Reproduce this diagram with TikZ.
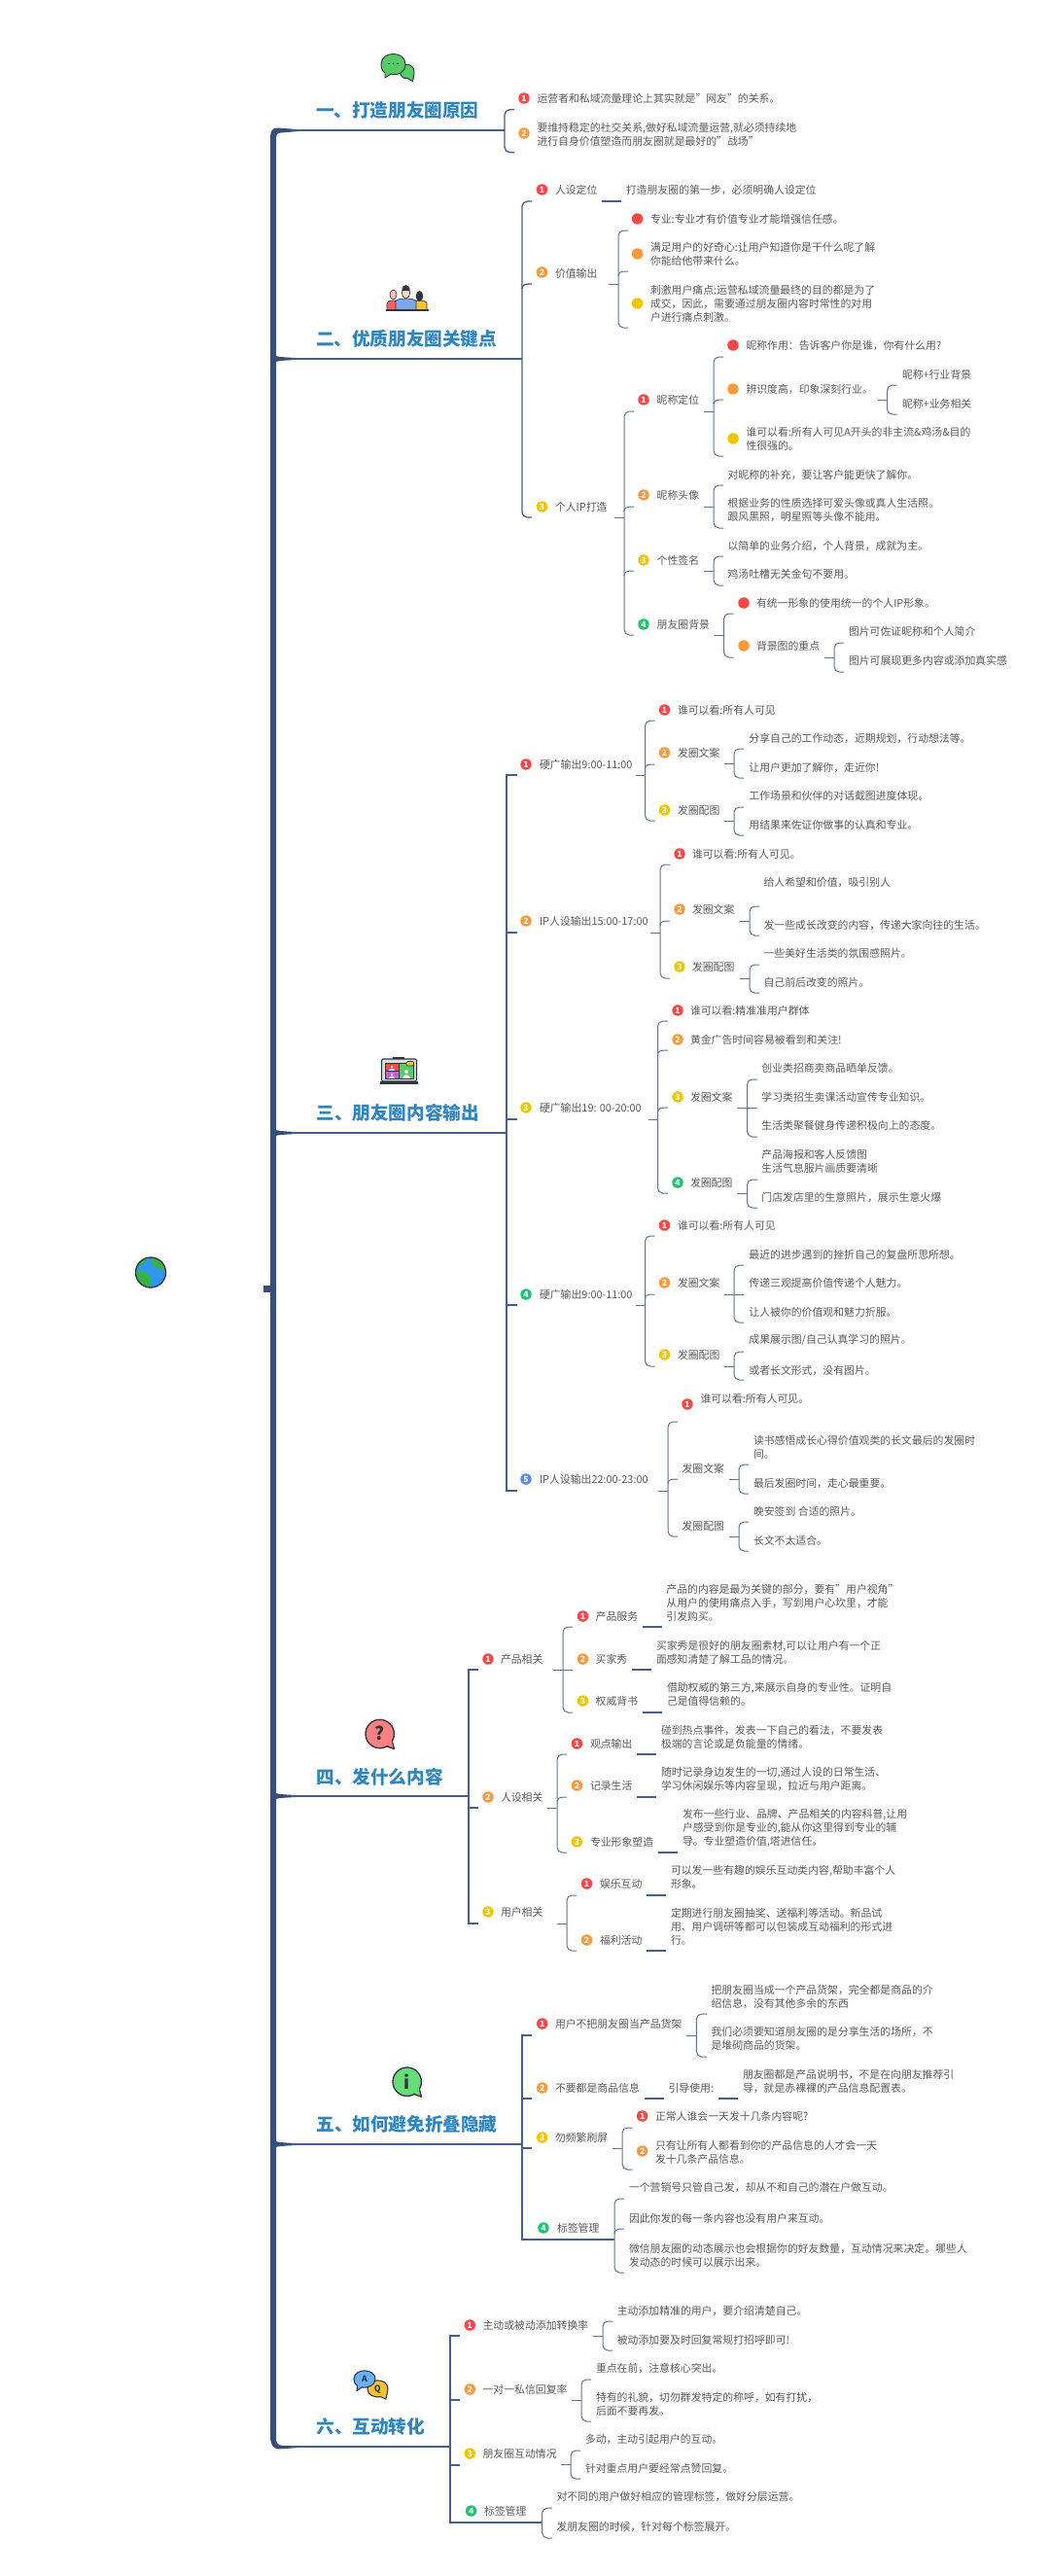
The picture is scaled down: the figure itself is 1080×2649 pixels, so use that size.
\documentclass[tikz,border=0pt]{standalone}
\usepackage{fontspec}
\setmainfont{Noto Sans CJK SC}
\usetikzlibrary{calc}
\definecolor{spine}{HTML}{374E79}
\definecolor{mainl}{HTML}{46608C}
\definecolor{thinl}{HTML}{5F7399}
\definecolor{txtc}{HTML}{5A5A5A}
\definecolor{titlec}{HTML}{2E86C1}
\definecolor{cr}{HTML}{FF4545}
\definecolor{co}{HTML}{FF9A3C}
\definecolor{cy}{HTML}{F2C500}
\definecolor{cg}{HTML}{1FC46F}
\definecolor{cb}{HTML}{5B87F7}
\definecolor{ico}{HTML}{2F3640}
\definecolor{gbub}{HTML}{55CC66}
\definecolor{gbul}{HTML}{66DD77}
\definecolor{rbub}{HTML}{FF8080}
\definecolor{ybub}{HTML}{F5C42C}
\definecolor{bbub}{HTML}{66B2FF}
\definecolor{earth}{HTML}{2F95EE}
\definecolor{land}{HTML}{35B34A}
\definecolor{purp}{HTML}{C060E0}
\definecolor{torso}{HTML}{7FA8E8}
\definecolor{skin}{HTML}{FBDDB8}
\tikzset{
  txt/.style={anchor=west,inner sep=0pt,outer sep=0pt,text=txtc,align=left,font=\fontsize{8.15}{10.5}\selectfont},
  ttl/.style={anchor=west,inner sep=0pt,outer sep=0pt,text=titlec,font=\fontsize{13.95}{16}\selectfont\bfseries},
  bdg/.style={circle,inner sep=0pt,outer sep=0pt,minimum size=8.6pt,text=white,font=\fontsize{6.4}{6.4}\selectfont\bfseries},
  thinline/.style={draw=thinl,line width=0.75pt,rounded corners=4pt},
  mainr/.style={draw=mainl,line width=1pt,rounded corners=4pt},
  mains/.style={draw=mainl,line width=1.1pt}
}
\newcounter{cn}
% text node
\newcommand\T[3]{\stepcounter{cn}\node[txt] (t\arabic{cn}) at (#1,#2) {#3};}
\newcommand\Ttl[3]{\stepcounter{cn}\node[ttl] (t\arabic{cn}) at (#1,#2) {#3};}
% numbered badge
\newcommand\Bdg[4]{\stepcounter{cn}\node[bdg,fill=#3] (n\arabic{cn}) at (#1,#2) {#4};}
% plain dot
\newcommand\Dt[3]{\stepcounter{cn}\node[bdg,fill=#3] (n\arabic{cn}) at (#1,#2) {};}
% bracket: style, id, stem x, bar x, tip x, stem y, top y, bottom y
\newcommand\Fork[8][thinline]{%
  \coordinate (#2s) at (#3,#6);\coordinate (#2j) at (#4,#6);
  \coordinate (#2t) at (#5,#7);\coordinate (#2b) at (#5,#8);
  \coordinate (#2tc) at (#4,#7);\coordinate (#2bc) at (#4,#8);
  \draw[#1,rounded corners=0pt] (#2s) -- (#2j);
  \draw[#1] (#2t) -- (#2tc) -- (#2bc) -- (#2b);}
% curved middle tip leaving the bar
\newcommand\Mid[5][thinline]{\stepcounter{cn}%
  \coordinate (m\arabic{cn}) at (#4,#5);
  \draw[#1,rounded corners=0pt] (#3,#5+5) .. controls (#3,#5+1) and (#3+2,#5) .. (m\arabic{cn});}
% straight middle tip
\newcommand\Msq[5][thinline]{\stepcounter{cn}%
  \coordinate (m\arabic{cn}) at (#4,#5);\coordinate (ma\arabic{cn}) at (#3,#5);
  \draw[#1,rounded corners=0pt] (ma\arabic{cn}) -- (m\arabic{cn});}
% underline between a topic and its text
\newcommand\Und[3]{\stepcounter{cn}%
  \coordinate (ua\arabic{cn}) at (#1,#3);\coordinate (ub\arabic{cn}) at (#2,#3);
  \draw[mainl,line width=0.85pt] (ua\arabic{cn}) -- (ub\arabic{cn});}
% taper where a branch leaves the spine
\newcommand\Taper[1]{\fill[spine] (283,#1-3.2) .. controls (285,#1-2) and (295,#1-1.4) .. (310,#1-0.7) -- (310,#1+0.7) .. controls (295,#1+1.4) and (285,#1+2) .. (283,#1+3.2) -- cycle;}
\begin{document}
\begin{tikzpicture}[x=0.75pt,y=-0.75pt]
\useasboundingbox (0,0) rectangle (1080,2649);
\fill[white] (0,0) rectangle (1080,2649);
% ---------- spine ----------
\fill[spine] (278,2505) -- (278,142) .. controls (278,135) and (280,131) .. (286,131.5)
  -- (310,133.4) -- (310,134.8) -- (289,136.5) .. controls (285.5,136.8) and (284,138) .. (284,141)
  -- (284,2508) .. controls (284,2512) and (286,2514.5) .. (290,2514.8) -- (310,2515.4) -- (310,2516.8)
  -- (288,2518.3) .. controls (281,2518.6) and (278,2514) .. (278,2505) -- cycle;
\fill[spine] (271,1322) rectangle (279,1328.5);
\Taper{369}\Taper{1165}\Taper{1847}\Taper{2205}
% ---------- globe ----------
\begin{scope}
\clip (155,1308.5) circle (15.5);
\fill[earth] (155,1308.5) circle (15.5);
\fill[land] (139,1292) -- (153,1292) .. controls (150,1298) and (146,1301) .. (140,1304) -- cycle;
\fill[land] (156,1292) -- (172,1296) -- (172,1308) .. controls (166,1305) and (158,1305) .. (156,1298) -- cycle;
\fill[land] (139,1307) .. controls (146,1305) and (155,1310) .. (156,1316) .. controls (156,1320) and (153,1324) .. (150,1326) -- (139,1324) -- cycle;
\end{scope}
\draw[ico,line width=1pt] (155,1308.5) circle (15.5);
% ---------- icon 1: chat ----------
\fill[gbub,draw=ico,line width=0.7pt] (411,72) .. controls (411,64) and (426,64) .. (426,74) .. controls (426,78) and (425,80) .. (424.5,83.5) -- (419,80.5) .. controls (414,81.5) and (411,77) .. (411,72) -- cycle;
\fill[gbub,draw=ico,line width=0.7pt] (392,66) .. controls (392,52) and (417,52) .. (417,66) .. controls (417,74) and (410,78) .. (402,76) -- (396,80) -- (396,75) .. controls (393,73) and (392,70) .. (392,66) -- cycle;
\foreach \dx in {400,404.5,409}{\fill[ico] (\dx,65.5) circle (0.9);}
% ---------- icon 2: people ----------
\fill[cr!85!white,draw=ico,line width=0.5pt] (398,318.5) -- (398,312) .. controls (398,308) and (410,308) .. (410,312) -- (410,318.5) -- cycle;
\fill[cr!35!white,draw=ico,line width=0.5pt] (404.5,303) circle (3.5 and 5);
\fill[ybub,draw=ico,line width=0.5pt] (425,318.5) -- (425,312) .. controls (425,308) and (439,308) .. (439,312) -- (439,318.5) -- cycle;
\fill[ico] (431.5,304.5) circle (3.8 and 5.5);
\fill[torso,draw=ico,line width=0.5pt] (407,318.5) -- (407,310) .. controls (407,306) and (428,306) .. (428,310) -- (428,318.5) -- cycle;
\fill[skin,draw=ico,line width=0.5pt] (417.5,301) circle (4 and 6);
\fill[ico] (413.5,299) .. controls (413,291) and (422,291) .. (421.5,299) -- cycle;
\draw[ico,line width=1pt] (397,319) -- (441,319);
% ---------- icon 3: laptop ----------
\fill[gray!25,draw=ico,line width=0.8pt,rounded corners=1pt] (392.5,1089) rectangle (428.5,1112);
\fill[ico] (391,1112) rectangle (430,1115);
\fill[ico] (404,1086.5) rectangle (416,1089);
\fill[cr] (396,1093) rectangle (410,1100.5);
\fill[purp] (396,1101.5) rectangle (410,1109);
\fill[gbub] (411,1093) rectangle (425,1109);
\draw[ico,line width=0.5pt] (396,1093) rectangle (425,1109) (410.5,1093) -- (410.5,1109) (396,1101) -- (410.5,1101);
\fill[white] (403,1097) circle (1.3) (403,1105) circle (1.3) (418,1102) circle (2);
\fill[white] (400,1100.5) .. controls (400,1098) and (406,1098) .. (406,1100.5) -- cycle;
\fill[white] (400,1109) .. controls (400,1106) and (406,1106) .. (406,1109) -- cycle;
\fill[white] (414,1109) .. controls (414,1104) and (422,1104) .. (422,1109) -- cycle;
\fill[ybub,draw=ico,line width=0.4pt,rounded corners=1pt] (418,1091.5) rectangle (425.5,1096);
% ---------- icon 4: question ----------
\fill[rbub,draw=ico,line width=1pt,line join=round] (403,1789.5) -- (405.5,1798.5) -- (397,1795.5) -- cycle;
\fill[rbub,draw=ico,line width=1pt] (390.7,1783) circle (14.7);
\fill[rbub] (403,1789.8) -- (397.3,1794.8) -- (403.5,1795.5) -- cycle;
\node[inner sep=0pt,text=ico,font=\fontsize{14}{14}\selectfont\bfseries] (qmark) at (390.7,1782.5) {?};
% ---------- icon 5: info ----------
\fill[gbul,draw=ico,line width=1pt,line join=round] (431,2147.2) -- (433.5,2156.2) -- (425,2153.2) -- cycle;
\fill[gbul,draw=ico,line width=1pt] (418.7,2140.7) circle (14.7);
\fill[gbul] (431,2147.5) -- (425.3,2152.5) -- (431.5,2153.2) -- cycle;
\node[inner sep=0pt,text=ico,font=\fontsize{14}{14}\selectfont\bfseries] (imark) at (418.7,2140.5) {i};
% ---------- icon 6: A/Q ----------
\fill[ybub,draw=ico,line width=0.8pt,line join=round] (378,2456.5) .. controls (378,2445) and (399,2445) .. (399,2456.5) .. controls (399,2460) and (397.5,2463) .. (397,2467) -- (391,2464.5) .. controls (384,2466) and (378,2462) .. (378,2456.5) -- cycle;
\fill[bbub,draw=ico,line width=0.8pt,line join=round] (364,2446.5) .. controls (364,2435) and (386,2435) .. (386,2446.5) .. controls (386,2453) and (378,2456) .. (372,2455) -- (367,2458.5) -- (367.5,2453) .. controls (365,2452) and (364,2449) .. (364,2446.5) -- cycle;
\node[inner sep=0pt,text=ico,font=\fontsize{6.5}{6.5}\selectfont\bfseries] (amark) at (375,2446.5) {A};
\node[inner sep=0pt,text=ico,font=\fontsize{6.5}{6.5}\selectfont\bfseries] (qqmark) at (388.3,2457) {Q};
% ---------- titles ----------
\Ttl{325}{113}{一、打造朋友圈原因}
\Ttl{325}{348}{二、优质朋友圈关键点}
\Ttl{325.5}{1144}{三、朋友圈内容输出}
\Ttl{325.5}{1827}{四、发什么内容}
\Ttl{325.5}{2184}{五、如何避免折叠隐藏}
\Ttl{325.5}{2495}{六、互动转化}
% ========== section 1 ==========
\Fork[mainr]{a}{300}{519}{529}{134}{112.7}{156.7}
\Bdg{539}{101}{cr}{1}\T{552.5}{101}{运营者和私域流量理论上其实就是"网友"的关系。}
\Bdg{539}{137}{co}{2}\T{552.5}{138}{要维持稳定的社交关系,做好私域流量运营,就必须持续地\\进行自身价值塑造而朋友圈就是最好的"战场"}
% ========== section 2 ==========
\Fork[mainr]{b}{300}{537}{547}{369}{207}{532}
\Mid[mainr]{b}{537}{547}{292}
\Bdg{557.5}{195}{cr}{1}\T{571}{195}{人设定位}\Und{619}{639}{207}\T{644}{195}{打造朋友圈的第一步，必须明确人设定位}
\Bdg{557.5}{280}{co}{2}\T{571}{281}{价值输出}
\Fork{c}{626}{636}{646}{292}{237}{337}\Mid{c}{636}{646}{279}
\Dt{655.6}{225}{cr}\T{669}{225}{专业:专业才有价值专业才能增强信任感。}
\Dt{655.6}{261}{co}\T{669}{261}{满足用户的好奇心:让用户知道你是干什么呢了解\\你能给他带来什么。}
\Dt{655.6}{312}{cy}\T{669}{312}{刺激用户痛点:运营私域流量最终的目的都是为了\\成交，因此，需要通过朋友圈内容时常性的对用\\户进行痛点刺激。}
\Bdg{557.5}{521}{cy}{3}\T{571}{521}{个人IP打造}
\Fork{d}{632}{642}{652}{532}{423}{653}\Mid{d}{642}{652}{521}\Mid[thinline]{d}{642}{652}{587}
\Bdg{662}{411}{cr}{1}\T{675.7}{411}{昵称定位}
\Fork{e}{724}{734}{744}{423}{367}{469}\Mid{e}{734}{744}{411}
\Dt{754}{355}{cr}\T{767.5}{355}{昵称作用：告诉客户你是谁，你有什么用?}
\Dt{754}{400}{co}\T{767.5}{400}{辨识度高，印象深刻行业。}
\Fork{f}{902.5}{912.5}{922.5}{411}{396}{426}
\T{928}{385}{昵称+行业背景}\T{928}{415}{昵称+业务相关}
\Dt{754}{451}{cy}\T{767.5}{451}{谁可以看:所有人可见A开头的非主流\&鸡汤\&目的\\性很强的。}
\Bdg{662}{509}{co}{2}\T{675.7}{509}{昵称头像}
\Fork{g}{724}{734}{744}{521}{499}{543}
\T{748.6}{488}{对昵称的补充，要让客户能更快了解你。}
\T{748.6}{524}{根据业务的性质选择可爱头像或真人生活照。\\跟风黑照，明星照等头像不能用。}
\Bdg{662}{576}{cy}{3}\T{675.7}{576}{个性签名}
\Fork{h}{724}{734}{744}{587}{572}{602}
\T{748.6}{561}{以简单的业务介绍，个人背景，成就为主。}
\T{748.6}{590}{鸡汤吐槽无关金句不要用。}
\Bdg{662}{642}{cg}{4}\T{675.7}{642}{朋友圈背景}
\Fork{i}{734.5}{744.5}{754.5}{653}{631}{676}
\Dt{765}{620}{cr}\T{778}{620}{有统一形象的使用统一的个人IP形象。}
\Dt{765}{664}{co}\T{778}{664}{背景图的重点}
\Fork{j}{848}{858}{868}{676}{661}{691}
\T{873}{649}{图片可佐证昵称和个人简介}\T{873}{679}{图片可展现更多内容或添加真实感}
% ========== section 3 ==========
\draw[mains,rounded corners=0pt] (300,1165) -- (521,1165);
\coordinate (kt) at (531.5,797);\coordinate (kb) at (531.5,1533);
\draw[mains] (kt) -- (521,797) -- (521,1533) -- (kb);
\Msq[mains]{k}{521}{531.5}{959}\Msq[mains]{k}{521}{531.5}{1151}\Msq[mains]{k}{521}{531.5}{1342}
% 3.1
\Bdg{541}{786}{cr}{1}\T{555}{786}{硬广输出9:00-11:00}
\Fork{l}{653.5}{663.5}{673.5}{797}{741}{844}\Mid{l}{663.5}{673.5}{786}
\Bdg{683.5}{730}{cr}{1}\T{697}{730}{谁可以看:所有人可见}
\Bdg{683.5}{774}{co}{2}\T{697}{774}{发圈文案}
\Fork{la}{745}{755}{765}{785}{770}{800}
\T{770.4}{759}{分享自己的工作动态，近期规划，行动想法等。}\T{770.4}{789}{让用户更加了解你，走近你!}
\Bdg{683.5}{833}{cy}{3}\T{697}{833}{发圈配图}
\Fork{lb}{745}{755}{765}{844}{830}{859}
\T{770.4}{818}{工作场景和伙伴的对话截图进度体现。}\T{770.4}{848}{用结果来佐证你做事的认真和专业。}
% 3.2
\Bdg{541}{947}{co}{2}\T{555}{947}{IP人设输出15:00-17:00}
\Fork{m}{669}{679}{689}{959}{889}{1006}\Mid{m}{679}{689}{947}
\Bdg{699}{878}{cr}{1}\T{712}{878}{谁可以看:所有人可见。}
\Bdg{699}{935}{co}{2}\T{712}{935}{发圈文案}
\Fork{ma}{761}{771}{781}{947}{932}{962}
\T{785.6}{907}{给人希望和价值，吸引别人}\T{785.6}{951}{发一些成长改变的内容，传递大家向往的生活。}
\Bdg{699}{994}{cy}{3}\T{712}{994}{发圈配图}
\Fork{mb}{761}{771}{781}{1006}{992}{1021}
\T{785.6}{980}{一些美好生活类的氛围感照片。}\T{785.6}{1010}{自己前后改变的照片。}
% 3.3
\Bdg{541}{1139}{cy}{3}\T{555}{1139}{硬广输出19: 00-20:00}
\Fork{n}{666.5}{676.5}{687}{1151}{1050}{1227}\Mid{n}{676.5}{687}{1080}\Mid{n}{676.5}{687}{1139}
\Bdg{697}{1039}{cr}{1}\T{710}{1039}{谁可以看:精准准用户群体}
\Bdg{697}{1069}{co}{2}\T{710}{1069}{黄金广告时间容易被看到和关注!}
\Bdg{697}{1128}{cy}{3}\T{710}{1128}{发圈文案}
\Fork{na}{758}{768.5}{779}{1139}{1110}{1169}\Msq{na}{768.5}{779}{1139}
\T{783.4}{1098}{创业类招商卖商品晒单反馈。}\T{783.4}{1128}{学习类招生卖课活动宣传专业知识。}\T{783.4}{1157}{生活类聚餐健身传递积极向上的态度。}
\Bdg{697}{1216}{cg}{4}\T{710}{1216}{发圈配图}
\Fork{nb}{758}{768.5}{779}{1227}{1213}{1242}
\T{783.4}{1194}{产品海报和客人反馈图\\生活气息服片画质要清晰}\T{783.4}{1231}{门店发店里的生意照片，展示生意火爆}
% 3.4
\Bdg{541}{1331}{cg}{4}\T{555}{1331}{硬广输出9:00-11:00}
\Fork{o}{653.5}{663.5}{673.5}{1342}{1271}{1405}\Mid{o}{663.5}{673.5}{1331}
\Bdg{683.5}{1260}{cr}{1}\T{697}{1260}{谁可以看:所有人可见}
\Bdg{683.5}{1319}{co}{2}\T{697}{1319}{发圈文案}
\Fork{oa}{745}{755}{765}{1331}{1301}{1360}\Msq{oa}{755}{765}{1331}
\T{770.4}{1290}{最近的进步遇到的挫折自己的复盘所思所想。}\T{770.4}{1319}{传递三观提高价值传递个人魅力。}\T{770.4}{1349}{让人被你的价值观和魅力折服。}
\Bdg{683.5}{1393}{cy}{3}\T{697}{1393}{发圈配图}
\Fork{ob}{745}{755}{765}{1405}{1390}{1419}
\T{770.4}{1378}{成果展示图/自己认真学习的照片。}\T{770.4}{1409}{或者长文形式，没有图片。}
% 3.5
\Bdg{541}{1521}{cb}{5}\T{555}{1521}{IP人设输出22:00-23:00}
\Fork{p}{677}{687}{697}{1533}{1462}{1580}\Mid{p}{687}{697}{1521}
\Bdg{707}{1444}{cr}{1}\T{720.5}{1438}{谁可以看:所有人可见。}
\T{701.6}{1510}{发圈文案}
\Fork{pa}{750}{760}{770}{1521}{1506}{1536}
\T{775}{1488.5}{读书感悟成长心得价值观类的长文最后的发圈时\\间。}\T{775}{1525}{最后发圈时间，走心最重要。}
\T{701.6}{1569}{发圈配图}
\Fork{pb}{750}{760}{770}{1580}{1565}{1595}
\T{775}{1554}{晚安签到 合适的照片。}\T{775}{1584}{长文不太适合。}
% ========== section 4 ==========
\draw[mains,rounded corners=0pt] (300,1847) -- (482,1847);
\coordinate (qt) at (492,1717);\coordinate (qb) at (492,1978);
\draw[mains] (qt) -- (482,1717) -- (482,1978) -- (qb);
\Msq[mains]{q}{482}{492}{1859}
\Bdg{502}{1706}{cr}{1}\T{515}{1706}{产品相关}
\Fork{r}{569}{579}{589}{1717}{1673}{1761}
\Bdg{599.5}{1662}{cr}{1}\T{612.7}{1662}{产品服务}\Und{661}{681}{1673}
\T{685.4}{1648}{产品的内容是最为关键的部分，要有"用户视角"\\从用户的使用痛点入手，写到用户心坎里，才能\\引发购买。}
\Bdg{599.5}{1706}{co}{2}\T{612.7}{1706}{买家秀}\Und{650}{670}{1717}
\Msq{r}{579}{589}{1717}
\T{675}{1699}{买家秀是很好的朋友圈素材,可以让用户有一个正\\面感知清楚了解工品的情况。}
\Bdg{599.5}{1749}{cy}{3}\T{612.7}{1749}{权威背书}\Und{661}{681}{1761}
\T{686}{1742}{借助权威的第三方,来展示自身的专业性。证明自\\己是值得信赖的。}
\Bdg{502}{1848}{co}{2}\T{515}{1848}{人设相关}
\Fork{s}{563}{573}{583}{1859}{1804}{1905}\Mid{s}{573}{583}{1848}
\Bdg{593.4}{1793}{cr}{1}\T{607}{1793}{观点输出}\Und{655}{675}{1804}
\T{680}{1786}{碰到热点事件，发表一下自己的看法，不要发表\\极端的言论或是负能量的情绪。}
\Bdg{593.4}{1836}{co}{2}\T{607}{1836}{记录生活}\Und{655}{675}{1848}
\T{680}{1829.5}{随时记录身边发生的一切,通过人设的日常生活、\\学习休闲娱乐等内容呈现，拉近与用户距离。}
\Bdg{593.4}{1894}{cy}{3}\T{607}{1894}{专业形象塑造}\Und{677}{697}{1905}
\T{702}{1880}{发布一些行业、品牌、产品相关的内容科普,让用\\户感受到你是专业的,能从你这里得到专业的辅\\导。专业塑造价值,塔进信任。}
\Bdg{502}{1966}{cy}{3}\T{515}{1966}{用户相关}
\Fork{v}{573}{583}{593}{1978}{1949}{2006}
\Bdg{603.5}{1937}{cr}{1}\T{617}{1937}{娱乐互动}\Und{665}{685}{1949}
\T{690}{1930.5}{可以发一些有趣的娱乐互动类内容,帮助丰富个人\\形象。}
\Bdg{603.5}{1995}{co}{2}\T{617}{1995}{福利活动}\Und{665}{685}{2006}
\T{690}{1981}{定期进行朋友圈抽奖、送福利等活动。新品试\\用、用户调研等都可以包装成互动福利的形式进\\行。}
% ========== section 5 ==========
\draw[mains,rounded corners=0pt] (300,2205) -- (537,2205);
\coordinate (wt) at (547,2093);\coordinate (wb) at (632,2303);
\draw[mains] (wt) -- (537,2093) -- (537,2303) -- (wb);
\Msq[mains]{w}{537}{547}{2158}\Msq[mains]{w}{537}{547}{2209}
\Bdg{557.7}{2081}{cr}{1}\T{571}{2081}{用户不把朋友圈当产品货架}
\Fork{x}{706.4}{716.4}{726.8}{2093}{2071}{2115}
\T{731.6}{2053}{把朋友圈当成一个产品货架，完全都是商品的介\\绍信息，没有其他多余的东西}
\T{731.6}{2096.5}{我们必须要知道朋友圈的是分享生活的场所，不\\是堆砌商品的货架。}
\Bdg{557.7}{2147}{co}{2}\T{571}{2147}{不要都是商品信息}\Und{663}{683}{2158}
\T{687.6}{2147}{引导使用:}\Und{739}{759}{2158}
\T{764}{2140}{朋友圈都是产品说明书，不是在向朋友推荐引\\导，就是赤裸裸的产品信息配置表。}
\Bdg{557.7}{2198}{cy}{3}\T{571}{2198}{勿频繁刷屏}
\Fork{y}{630}{640}{650.6}{2209}{2188}{2231}
\Bdg{660.6}{2176}{cr}{1}\T{674}{2176}{正常人谁会一天发十几条内容呢?}
\Bdg{660.6}{2212}{co}{2}\T{674}{2213}{只有让所有人都看到你的产品信息的人才会一天\\发十几条产品信息。}
\Bdg{559}{2291}{cg}{4}\T{573}{2291}{标签管理}
\Fork{z}{632}{632}{642}{2303}{2261}{2337}\Mid{z}{632}{642}{2292}
\T{647}{2249}{一个营销号只管自己发，却从不和自己的潜在户做互动。}
\T{647}{2281}{因此你发的每一条内容也没有用户来互动。}
\T{647}{2319}{微信朋友圈的动态展示也会根据你的好友数量，互动情况来决定。哪些人\\发动态的时候可以展示出来。}
% ========== section 6 ==========
\draw[mains,rounded corners=0pt] (300,2516) -- (463,2516);
\coordinate (at) at (473,2402);\coordinate (ab) at (558,2594);
\draw[mains] (at) -- (463,2402) -- (463,2594) -- (ab);
\Msq[mains]{aa}{463}{473}{2468}\Msq[mains]{aa}{463}{473}{2535}
\Bdg{483.3}{2391}{cr}{1}\T{496.6}{2391}{主动或被动添加转换率}
\Fork{ba}{610}{620}{630}{2402}{2387}{2417}
\T{634.8}{2376}{主动添加精准的用户，要介绍清楚自己。}\T{634.8}{2406}{被动添加要及时回复常规打招呼即可!}
\Bdg{483.3}{2457}{co}{2}\T{496.6}{2457}{一对一私信回复率}
\Fork{bc}{588}{598}{608}{2468}{2447}{2490}
\T{613}{2435}{重点在前，注意核心突出。}\T{613}{2472}{特有的礼貌，切勿群发特定的称呼，如有打扰，\\后面不要再发。}
\Bdg{483.3}{2523}{cy}{3}\T{496.6}{2523}{朋友圈互动情况}
\Fork{bd}{577}{587}{597}{2534}{2520}{2549}
\T{602}{2508}{多动，主动引起用户的互动。}\T{602}{2538}{针对重点用户要经常点赞回复。}
\Bdg{484.6}{2582}{cg}{4}\T{498}{2582}{标签管理}
\Fork{be}{557.7}{557.7}{568}{2594}{2579}{2610}
\T{572.5}{2567}{对不同的用户做好相应的管理标签，做好分层运营。}\T{572.5}{2598}{发朋友圈的时候，针对每个标签展开。}
\end{tikzpicture}
\end{document}
